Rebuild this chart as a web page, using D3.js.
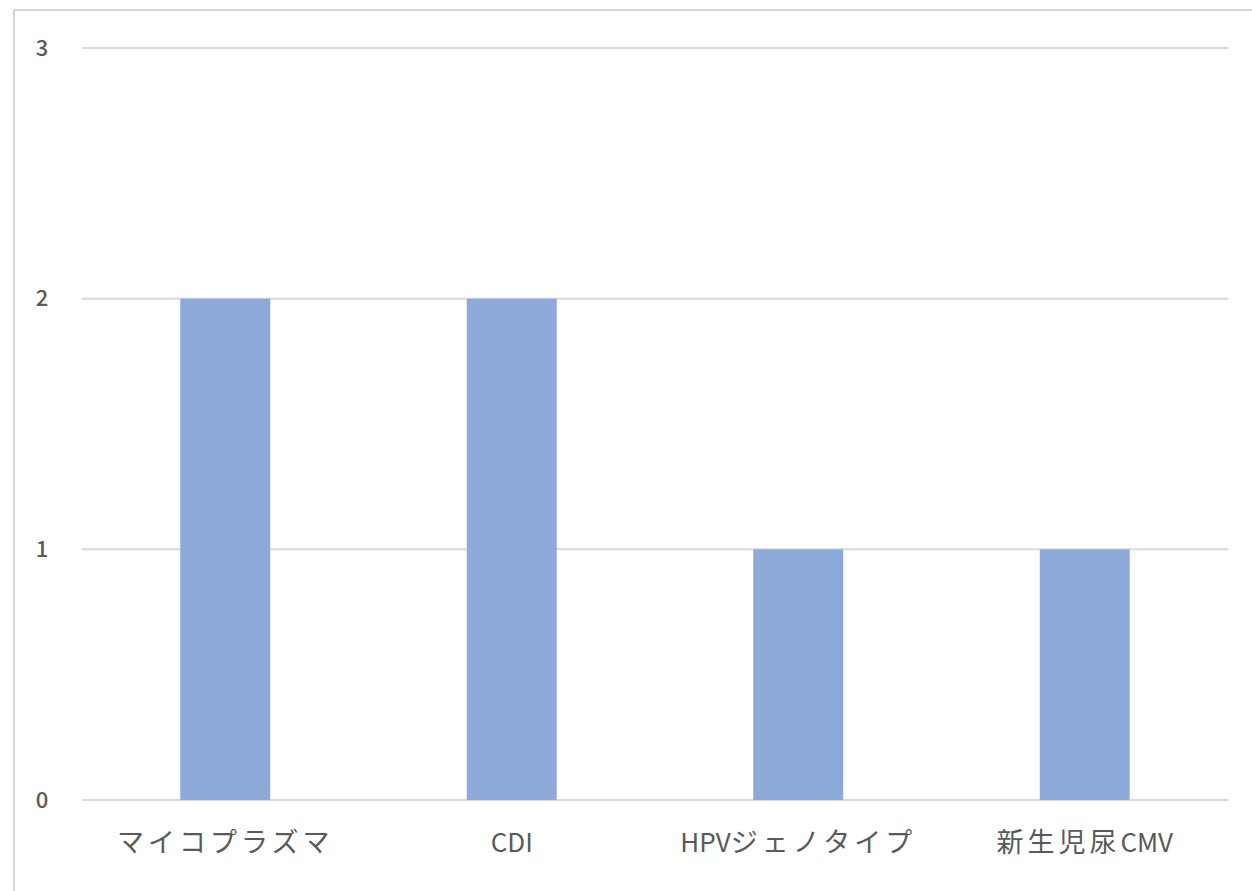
<!DOCTYPE html>
<html><head><meta charset="utf-8">
<script src="https://cdn.jsdelivr.net/npm/d3@7"></script>
<style>body{margin:0;background:#fff;}svg{display:block;}</style>
</head><body>
<script>
const categories = ["マイコプラズマ", "CDI", "HPVジェノタイプ", "新生児尿CMV"];
const values = [2, 2, 1, 1];
const yTicks = [0, 1, 2, 3];

const W = 1252, H = 891;
const svg = d3.select("body").append("svg").attr("width", W).attr("height", H);
const font = "'Noto Sans CJK JP', 'Noto Sans', sans-serif";

// outer frame
svg.append("line").attr("x1", 14).attr("x2", 14).attr("y1", 10).attr("y2", H).attr("stroke", "#d4d4d4").attr("stroke-width", 2);
svg.append("line").attr("x1", 14).attr("x2", W).attr("y1", 10).attr("y2", 10).attr("stroke", "#d4d4d4").attr("stroke-width", 2);

const x = d3.scaleBand().domain(categories).range([82, 1228]).paddingInner(0.686).paddingOuter(0.343);
const y = d3.scaleLinear().domain([0, 3]).range([800, 48]);

svg.append("g").selectAll("line").data(yTicks).join("line")
  .attr("x1", 82).attr("x2", 1228)
  .attr("y1", d => y(d)).attr("y2", d => y(d))
  .attr("stroke", "#d9d9d9").attr("stroke-width", 2);

svg.append("g").selectAll("text").data(yTicks).join("text")
  .attr("x", 42).attr("y", d => y(d)).attr("dy", "0.35em")
  .attr("text-anchor", "middle").attr("font-family", font).attr("font-size", 22)
  .attr("font-weight", 500)
  .attr("fill", "#595959").text(d => d);

svg.append("g").selectAll("rect").data(values).join("rect")
  .attr("x", (d, i) => x(categories[i])).attr("width", x.bandwidth())
  .attr("y", d => y(d)).attr("height", d => y(0) - y(d))
  .attr("fill", "#8eaadb");

const labels = svg.append("g").selectAll("text").data(categories).join("text")
  .attr("y", 846).attr("dy", "0.35em")
  .attr("text-anchor", "start").attr("font-family", font)
  .attr("fill", "#595959");
labels.each(function(d) {
  const t = d3.select(this);
  const runs = d.match(/[\x00-\x7F]+|[^\x00-\x7F]+/g);
  runs.forEach(r => {
    const ascii = /^[\x00-\x7F]+$/.test(r);
    t.append("tspan").text(r)
      .attr("font-size", ascii ? 26 : 27)
      .attr("letter-spacing", ascii ? 0 : 4);
  });
  const w = this.getComputedTextLength();
  t.attr("x", x(d) + x.bandwidth() / 2 - w / 2);
});
</script>
</body></html>
